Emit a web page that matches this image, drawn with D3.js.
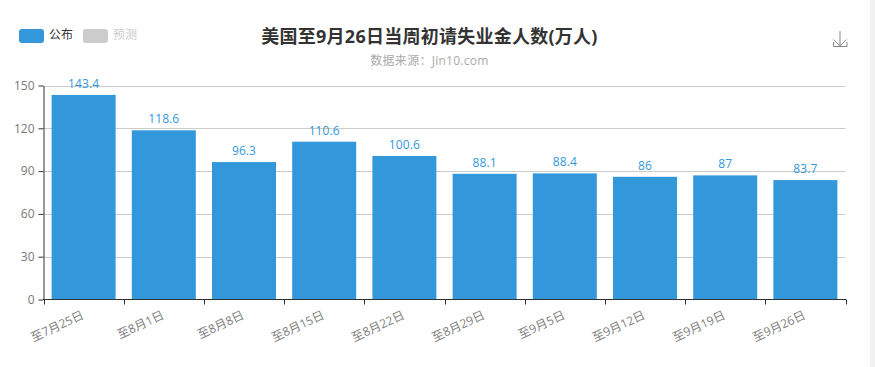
<!DOCTYPE html>
<html><head><meta charset="utf-8">
<script src="https://cdn.jsdelivr.net/npm/d3@7"></script>
<style>html,body{margin:0;padding:0;background:#fff;overflow:hidden}svg{display:block}text{font-family:"Open Sans","Noto Sans CJK SC",sans-serif}</style>
</head><body><div id="c"></div>
<script>
const categories=["至7月25日","至8月1日","至8月8日","至8月15日","至8月22日","至8月29日","至9月5日","至9月12日","至9月19日","至9月26日"];
const values=[143.4,118.6,96.3,110.6,100.6,88.1,88.4,86,87,83.7];
const yTicks=[0,30,60,90,120,150];
const legendItems=["公布","预测"];
const titleText="美国至9月26日当周初请失业金人数(万人)";
const subtitleText="数据来源：Jin10.com";

const W=875,H=367;
const svg=d3.select("#c").append("svg").attr("width",W).attr("height",H);
svg.append("rect").attr("x",870).attr("y",0).attr("width",5).attr("height",H).attr("fill","#f1f1f1");

const xEdge=d3.scaleBand().domain(categories).range([43.5,845.5]);
const y=d3.scaleLinear().domain([0,150]).range([299.5,85.5]);

// grid
svg.append("g").selectAll("line").data(yTicks.filter(d=>d>0)).join("line")
 .attr("x1",43.5).attr("x2",845.5).attr("y1",d=>Math.round(y(d))+.5).attr("y2",d=>Math.round(y(d))+.5)
 .attr("stroke","#ccc");

// bars
const bw=64;
svg.append("g").selectAll("rect").data(values).join("rect")
 .attr("x",(d,i)=>xEdge(categories[i])+(xEdge.bandwidth()-bw)/2)
 .attr("width",bw).attr("y",d=>y(d)).attr("height",d=>y(0)-y(d))
 .attr("fill","#3398db");

// labels
svg.append("g").selectAll("text").data(values).join("text")
 .attr("x",(d,i)=>xEdge(categories[i])+xEdge.bandwidth()/2)
 .attr("y",d=>y(d)-7).attr("text-anchor","middle")
 .attr("font-size",12).attr("letter-spacing",.1).attr("fill","#3398db").text(d=>d);

// y axis
const ya=svg.append("g").attr("transform","translate(43.5,0)").call(d3.axisLeft(y).tickValues(yTicks).tickSize(5).tickPadding(4).tickSizeOuter(0));
ya.selectAll(".domain,line").attr("stroke","#333");
ya.selectAll("text").attr("fill","#777").attr("font-size",12);

// x axis
const xa=d3.scaleLinear().domain([0,categories.length]).range([43.5,845.5]);
const axisG=svg.append("g");
axisG.append("line").attr("x1",43).attr("x2",846).attr("y1",299.5).attr("y2",299.5).attr("stroke","#333");
axisG.selectAll(".t").data(d3.range(categories.length+1)).join("line").attr("class","t")
 .attr("x1",d=>Math.round(xa(d))+.5).attr("x2",d=>Math.round(xa(d))+.5).attr("y1",299.5).attr("y2",304.5).attr("stroke","#333");
axisG.selectAll("text").data(categories).join("text")
 .attr("text-anchor","end").attr("font-size",12).attr("fill","#808080")
 .attr("transform",(d,i)=>`translate(${xEdge(d)+xEdge.bandwidth()/2+1},318) rotate(-25)`)
 .text(d=>d);

// legend
const lg=svg.append("g");
const lx=[19,83],lc=["#3398db","#ccc"],tc=["#333","#ccc"];
legendItems.forEach((t,i)=>{
 lg.append("rect").attr("x",lx[i]).attr("y",29).attr("width",25).attr("height",14).attr("rx",3).attr("fill",lc[i]);
 lg.append("text").attr("x",lx[i]+30).attr("y",39).attr("font-size",12).attr("fill",tc[i]).text(t);
});

// title
svg.append("text").attr("x",429.5).attr("y",43).attr("text-anchor","middle").attr("font-size",18).attr("font-weight",700).attr("letter-spacing",.25).attr("fill","#333").text(titleText);
svg.append("text").attr("x",429.5).attr("y",65).attr("text-anchor","middle").attr("font-size",12).attr("letter-spacing",.27).attr("fill","#aaa").text(subtitleText);

// download icon
const ic=svg.append("g").attr("fill","none").attr("stroke","#888").attr("stroke-width",1);
ic.append("path").attr("d","M840 31V46M833.5 39.5L840 46L846.5 39.5M833.5 42V46.5H847V42");
</script></body></html>
